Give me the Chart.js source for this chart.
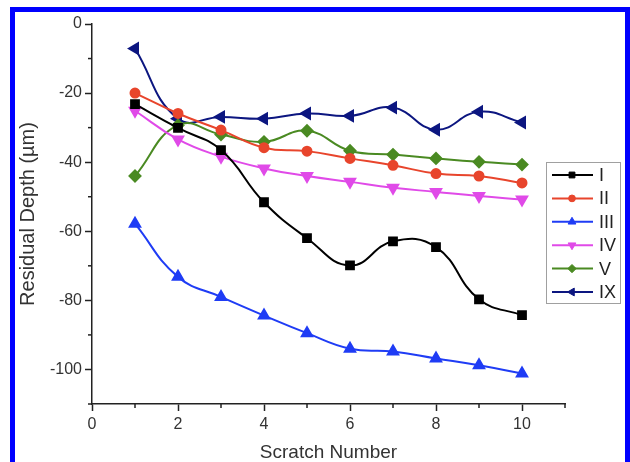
<!DOCTYPE html>
<html>
<head>
<meta charset="utf-8">
<script src="https://cdn.jsdelivr.net/npm/chart.js@4/dist/chart.umd.min.js"></script>
<style>
  html, body { margin: 0; padding: 0; background: #fff; overflow: hidden; }
  #wrap { position: relative; width: 630px; height: 462px; }
  #frame { position: absolute; left: 10px; top: 7px; width: 610px; height: 500px; border: 5px solid #0000ff; pointer-events: none; }
</style>
</head>
<body>
<div id="wrap">
  <canvas id="depthChart" width="630" height="462"></canvas>
  <div id="frame"></div>
</div>
<script>
// Residual depth vs scratch number
const scratchNumbers = [1, 2, 3, 4, 5, 6, 7, 8, 9, 10];
const seriesNames = ['I', 'II', 'III', 'IV', 'V', 'IX'];
const depthI   = [-23.2, -30.1, -36.5, -51.6, -62.0, -69.9, -62.9, -64.6, -79.7, -84.3];
const depthII  = [-20.0, -25.9, -30.7, -35.8, -36.8, -38.9, -40.9, -43.3, -44.0, -46.0];
const depthIII = [-57.8, -73.2, -79.0, -84.4, -89.5, -94.0, -94.8, -96.8, -98.8, -101.2];
const depthIV  = [-25.1, -33.4, -38.4, -41.8, -44.0, -45.7, -47.4, -48.6, -49.8, -50.8];
const depthV   = [-44.0, -29.3, -32.0, -34.1, -30.9, -36.7, -37.8, -38.9, -39.9, -40.7];
const depthIX  = [-7.1, -27.4, -26.9, -27.4, -25.9, -26.6, -24.2, -30.6, -25.4, -28.5];
const yTicksMajor = [-100, -80, -60, -40, -20, 0];
const xTicksMajor = [0, 2, 4, 6, 8, 10];

const FONT = '"Liberation Sans", Arial, sans-serif';
Chart.defaults.font.family = FONT;
Chart.defaults.color = '#333';

function toPoints(values) {
  return values.map((v, i) => ({ x: scratchNumbers[i], y: v }));
}

function makeSeries(label, values, color, style, radius, rotation) {
  return {
    label: label,
    data: toPoints(values),
    borderColor: color,
    backgroundColor: color,
    pointBackgroundColor: color,
    pointBorderColor: color,
    pointStyle: style,
    pointRadius: radius,
    pointRotation: rotation || 0,
    borderWidth: 2,
    tension: 0.45
  };
}

// minor ticks are shorter than the major ones
const minorTicks = {
  id: 'minorTicks',
  afterDraw(chart) {
    const { ctx, scales: { x, y } } = chart;
    ctx.save();
    ctx.strokeStyle = '#222';
    ctx.lineWidth = 1.5;
    y.ticks.forEach(t => {
      if (!yTicksMajor.includes(t.value)) {
        const py = y.getPixelForValue(t.value);
        ctx.beginPath(); ctx.moveTo(y.right - 4, py); ctx.lineTo(y.right, py); ctx.stroke();
      }
    });
    x.ticks.forEach(t => {
      if (!xTicksMajor.includes(t.value)) {
        const px = x.getPixelForValue(t.value);
        ctx.beginPath(); ctx.moveTo(px, x.top); ctx.lineTo(px, x.top + 4); ctx.stroke();
      }
    });
    ctx.restore();
  }
};

// legend box like the original figure
const boxLegend = {
  id: 'boxLegend',
  afterDraw(chart) {
    const ctx = chart.ctx;
    ctx.save();
    ctx.strokeStyle = '#a0a0a0';
    ctx.lineWidth = 1;
    ctx.strokeRect(546.5, 162.5, 74, 141);
    ctx.font = '18px ' + FONT;
    ctx.textBaseline = 'middle';
    chart.data.datasets.forEach((ds, i) => {
      const y = 175 + i * 23.4;
      ctx.strokeStyle = ds.borderColor;
      ctx.lineWidth = 2;
      ctx.beginPath(); ctx.moveTo(552, y); ctx.lineTo(593, y); ctx.stroke();
      ctx.fillStyle = ds.borderColor;
      ctx.lineWidth = 1;
      Chart.helpers.drawPoint(ctx, {
        pointStyle: ds.pointStyle,
        radius: ds.pointRadius * 0.75,
        rotation: ds.pointRotation,
        borderWidth: 1
      }, 572, y);
      ctx.fillStyle = '#222';
      ctx.fillText(ds.label, 599, y + 1);
    });
    ctx.restore();
  }
};

const ctx = document.getElementById('depthChart').getContext('2d');
new Chart(ctx, {
  type: 'line',
  data: {
    datasets: [
      makeSeries(seriesNames[0], depthI,   '#000000', 'rect', 5.5),
      makeSeries(seriesNames[1], depthII,  '#e8452c', 'circle', 4.5),
      makeSeries(seriesNames[2], depthIII, '#1f3cf5', 'triangle', 6),
      makeSeries(seriesNames[3], depthIV,  '#e04ae8', 'triangle', 6, 180),
      makeSeries(seriesNames[4], depthV,   '#4a8a22', 'rectRot', 5.5),
      makeSeries(seriesNames[5], depthIX,  '#0c1680', 'triangle', 6, -90)
    ]
  },
  options: {
    responsive: false,
    animation: false,
    layout: { padding: { top: 24, right: 65, bottom: 0, left: 0 } },
    plugins: {
      legend: { display: false },
      tooltip: { enabled: false }
    },
    scales: {
      x: {
        type: 'linear',
        min: 0,
        max: 11,
        afterFit: s => { s.height = 58; },
        border: { display: true, color: '#222', width: 1.5 },
        grid: {
          drawOnChartArea: false,
          tickLength: 7,
          tickWidth: 1.5,
          tickColor: c => (c.tick && xTicksMajor.includes(c.tick.value)) ? '#222' : 'rgba(0,0,0,0)'
        },
        ticks: {
          stepSize: 1,
          padding: 4,
          font: { size: 16 },
          callback: v => xTicksMajor.includes(v) ? v : ''
        },
        title: {
          display: true,
          text: 'Scratch Number',
          font: { size: 19, lineHeight: 1 },
          padding: { top: 0, bottom: 0 }
        }
      },
      y: {
        type: 'linear',
        min: -110,
        max: 0,
        afterFit: s => { s.width = 92; },
        border: { display: true, color: '#222', width: 1.5 },
        grid: {
          drawOnChartArea: false,
          tickLength: 7,
          tickWidth: 1.5,
          tickColor: c => (c.tick && yTicksMajor.includes(c.tick.value)) ? '#222' : 'rgba(0,0,0,0)'
        },
        ticks: {
          stepSize: 10,
          padding: 3,
          font: { size: 16 },
          callback: v => yTicksMajor.includes(v) ? v : ''
        },
        title: {
          display: true,
          text: 'Residual Depth (\u00b5m)',
          font: { size: 20, lineHeight: 1 },
          padding: { top: 18, bottom: 0 }
        }
      }
    }
  },
  plugins: [minorTicks, boxLegend]
});
</script>
</body>
</html>
